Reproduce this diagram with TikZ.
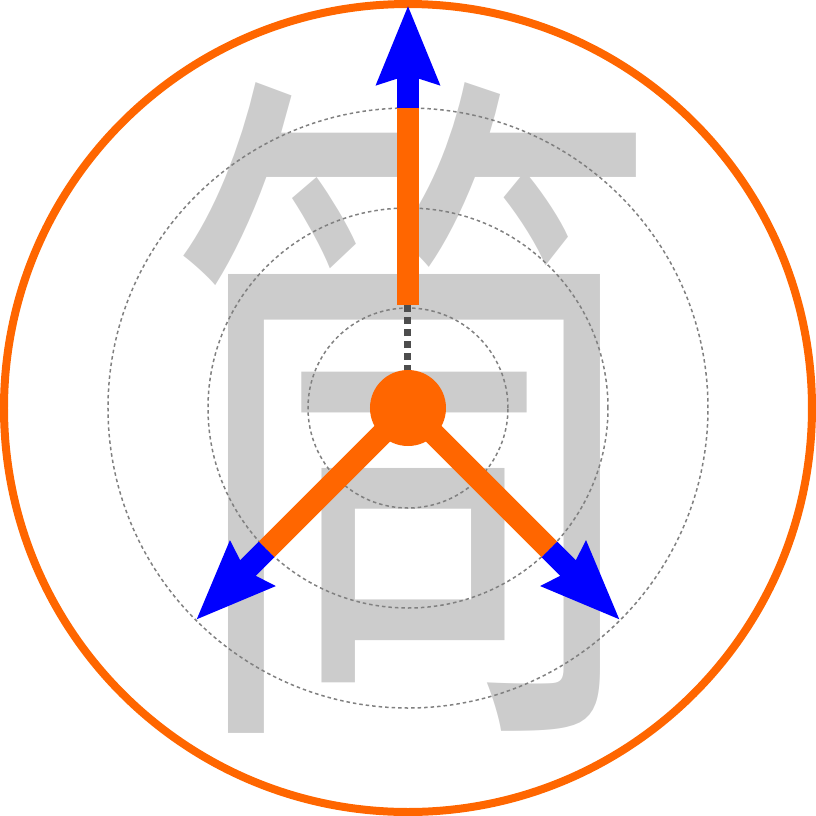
\documentclass[tikz,border=0pt]{standalone}
\usepackage{fontspec}
\newfontfamily\cjkfont{Noto Sans CJK TC}
\usetikzlibrary{arrows.meta}
\definecolor{logoorange}{HTML}{FF6600}
\definecolor{logoblue}{HTML}{0000FF}
\definecolor{glyphgray}{HTML}{CCCCCC}
\definecolor{ringgray}{HTML}{808080}
\definecolor{stemgray}{HTML}{4D4D4D}
\tikzset{
  glyph/.style={text=glyphgray, inner sep=0pt, xscale=0.7,
    font=\cjkfont\fontsize{200pt}{200pt}\selectfont},
  ring/.style={draw=ringgray, line width=0.15mm,
    dash pattern=on 0.35mm off 0.3mm},
  rim/.style={draw=logoorange, line width=0.8mm},
  stem/.style={draw=stemgray, line width=0.7mm,
    dash pattern=on 0.7mm off 0.5mm},
  shaft/.style={draw=logoorange, line width=2.2mm},
  tip/.style={draw=logoblue, line width=2.2mm,
    -{Stealth[length=7.8mm, width=6mm, inset=0.8mm]}},
  hub/.style={circle, fill=logoorange, minimum size=7.6mm, inner sep=0pt}
}

\begin{document}
\begin{tikzpicture}
\useasboundingbox (-4.08,-4.08) rectangle (4.08,4.08);
% background character
\node[glyph] (glyph) at (0.04,0) {筒};
% rings
\foreach \r in {1,2,3}
    \draw[ring] (0,0) circle (\r);
\draw[rim] (0,0) circle (4.04);
% arrow break points
\coordinate (upA) at (0,1.03);
\coordinate (upB) at (0,3);
\coordinate (upTip) at (0,4.03);
\coordinate (leftB) at (225:2);
\coordinate (leftTip) at (225:3);
\coordinate (rightB) at (-45:2);
\coordinate (rightTip) at (-45:3);
\coordinate (centre) at (0,0);
% arrows
\draw[stem] (centre) -- (upA);
\draw[shaft] (upA) -- (upB);
\draw[tip] (upB) -- (upTip);
\draw[shaft] (centre) -- (leftB);
\draw[tip] (leftB) -- (leftTip);
\draw[shaft] (centre) -- (rightB);
\draw[tip] (rightB) -- (rightTip);
\node[hub] (hub) at (centre) {};
\end{tikzpicture}
\end{document}
